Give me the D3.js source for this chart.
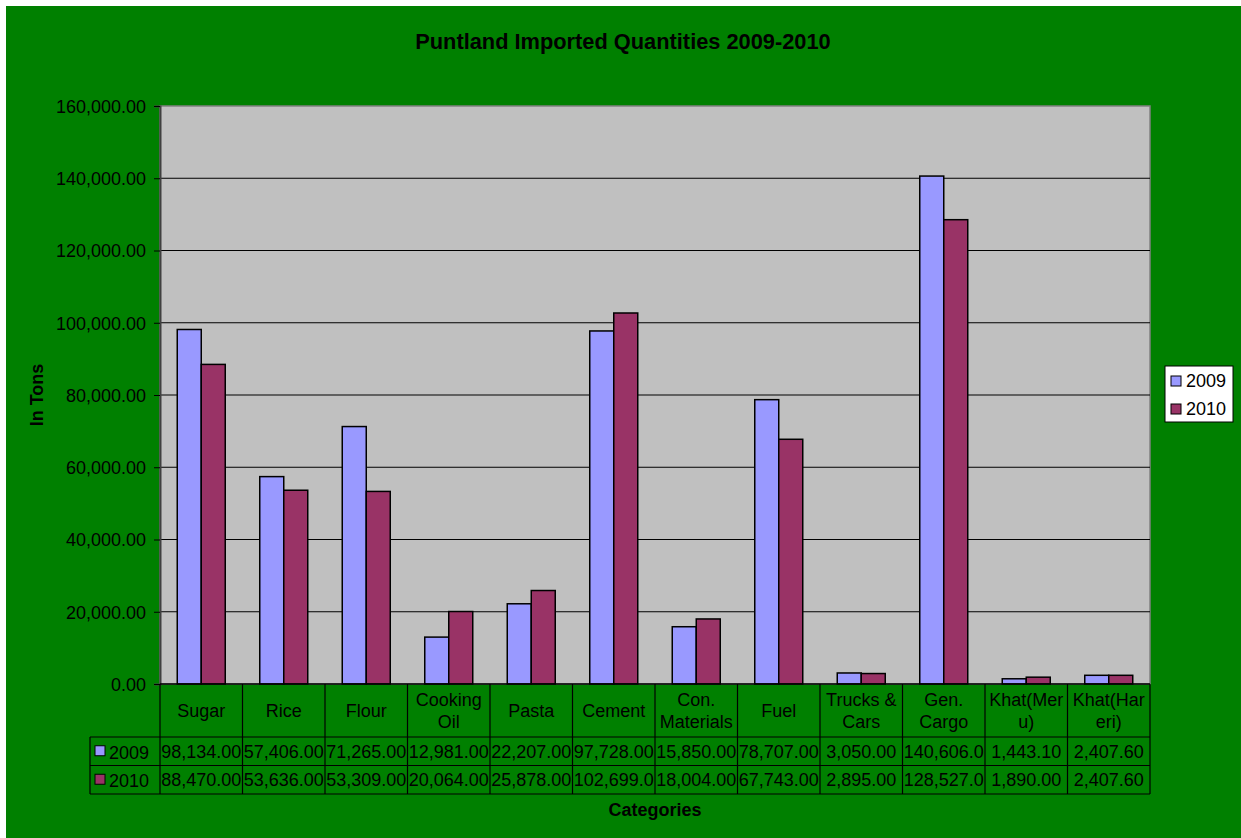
<!DOCTYPE html>
<html>
<head>
<meta charset="utf-8">
<script src="https://cdn.jsdelivr.net/npm/d3@7"></script>
<style>
  html, body { margin: 0; padding: 0; background: #ffffff; }
  svg { display: block; }
  text { font-family: Arial, "Liberation Sans", sans-serif; fill: #000; }
</style>
</head>
<body>
<script>
// Imported quantities (tons) by category
const categories = ["Sugar", "Rice", "Flour", "Cooking Oil", "Pasta", "Cement",
  "Con. Materials", "Fuel", "Trucks & Cars", "Gen. Cargo", "Khat(Meru)", "Khat(Hareri)"];
const years = ["2009", "2010"];
const values2009 = [98134, 57406, 71265, 12981, 22207, 97728, 15850, 78707, 3050, 140606, 1443.1, 2407.6];
const values2010 = [88470, 53636, 53309, 20064, 25878, 102699, 18004, 67743, 2895, 128527, 1890, 2407.6];
const yTicks = [0, 20000, 40000, 60000, 80000, 100000, 120000, 140000, 160000];

const seriesValues = [values2009, values2010];
const colors = ["#9999FF", "#993366"];

const W = 1241, H = 838;
const plot = { left: 160, top: 106, right: 1150, bottom: 684 };
const rowH = 28.5;
const headerBottom = 737;

const svg = d3.select("body").append("svg").attr("width", W).attr("height", H);

// Chart background
svg.append("rect").attr("x", 6).attr("y", 6).attr("width", W - 6).attr("height", H - 6)
  .attr("fill", "#008000");

// Title
svg.append("text").attr("x", 623).attr("y", 49).attr("text-anchor", "middle")
  .style("font-size", "21.8px").style("font-weight", "bold")
  .text("Puntland Imported Quantities 2009-2010");

const x = d3.scaleBand().domain(categories).range([plot.left, plot.right]);
const inner = d3.scaleBand().domain(years).range([0, 48]);
const groupPad = (x.bandwidth() - 48) / 2;
const y = d3.scaleLinear().domain([0, 160000]).range([plot.bottom, plot.top]);

// Plot area
svg.append("rect").attr("x", plot.left).attr("y", plot.top)
  .attr("width", plot.right - plot.left).attr("height", plot.bottom - plot.top)
  .attr("fill", "#C0C0C0").attr("stroke", "#808080").attr("stroke-width", 1.5);

// Gridlines
svg.append("g").selectAll("line").data(yTicks.filter(d => d > 0 && d < 160000)).join("line")
  .attr("x1", plot.left).attr("x2", plot.right)
  .attr("y1", d => y(d)).attr("y2", d => y(d))
  .attr("stroke", "#000").attr("stroke-width", 1);

// Y axis
const yAxis = d3.axisLeft(y).tickValues(yTicks).tickFormat(d3.format(",.2f"))
  .tickSize(6).tickPadding(8);
const gy = svg.append("g").attr("transform", `translate(${plot.left},0)`).call(yAxis);
gy.select(".domain").attr("stroke", "#404040").attr("stroke-width", 2);
gy.selectAll(".tick line").attr("stroke", "#000");
gy.selectAll(".tick text").style("font-size", "18px").style("font-family", "Arial, 'Liberation Sans', sans-serif")
  .attr("dy", "0.36em");

// Bars
years.forEach((yr, si) => {
  svg.append("g").selectAll("rect").data(seriesValues[si]).join("rect")
    .attr("x", (d, i) => x(categories[i]) + groupPad + inner(yr))
    .attr("y", d => y(d))
    .attr("width", inner.bandwidth())
    .attr("height", d => y(0) - y(d))
    .attr("fill", colors[si]).attr("stroke", "#000").attr("stroke-width", 1.5);
});

// X axis baseline
svg.append("line").attr("x1", plot.left).attr("x2", plot.right)
  .attr("y1", plot.bottom).attr("y2", plot.bottom).attr("stroke", "#000").attr("stroke-width", 1.5);

// Data table
const table = svg.append("g");
const lineStyle = s => s.attr("stroke", "#000").attr("stroke-width", 1.2);
const tableLeft = 90;
const tableBottom = headerBottom + 2 * rowH;

// horizontal rules
[headerBottom, headerBottom + rowH, tableBottom].forEach(yy => {
  table.append("line").attr("x1", tableLeft).attr("x2", plot.right).attr("y1", yy).attr("y2", yy).call(lineStyle);
});
// vertical rules
categories.forEach(c => {
  table.append("line").attr("x1", x(c)).attr("x2", x(c)).attr("y1", plot.bottom).attr("y2", tableBottom).call(lineStyle);
});
table.append("line").attr("x1", plot.right).attr("x2", plot.right).attr("y1", plot.bottom).attr("y2", tableBottom).call(lineStyle);
table.append("line").attr("x1", tableLeft).attr("x2", tableLeft).attr("y1", headerBottom).attr("y2", tableBottom).call(lineStyle);

// measuring helper
const meas = svg.append("text").style("font-size", "18px").attr("visibility", "hidden");
const widthOf = s => { meas.text(s); return meas.node().getComputedTextLength(); };
const maxW = x.bandwidth() - 2;

// wrap header labels to the cell width (breaking long words when needed)
function wrap(label) {
  const words = label.split(" ");
  const lines = [];
  let cur = "";
  words.forEach(w => {
    const trial = cur ? cur + " " + w : w;
    if (widthOf(trial) <= maxW) { cur = trial; return; }
    if (cur) { lines.push(cur); cur = ""; }
    if (widthOf(w) <= maxW) { cur = w; return; }
    let piece = "";
    for (const ch of w) {
      if (widthOf(piece + ch) > maxW) { lines.push(piece); piece = ch; }
      else piece += ch;
    }
    cur = piece;
  });
  if (cur) lines.push(cur);
  return lines;
}

categories.forEach(c => {
  const lines = wrap(c);
  const cx = x(c) + x.bandwidth() / 2;
  const cy = (plot.bottom + headerBottom) / 2;
  const lh = 22;
  lines.forEach((ln, k) => {
    table.append("text").attr("x", cx).attr("y", cy + (k - (lines.length - 1) / 2) * lh)
      .attr("dy", "0.35em").attr("text-anchor", "middle").style("font-size", "18px").text(ln);
  });
});

// value cells: clip text that does not fit in the cell
const fmt = d3.format(",.2f");
function fitText(s) {
  while (s.length > 1 && widthOf(s) > maxW) s = s.slice(0, -1);
  return s;
}
years.forEach((yr, si) => {
  const rowTop = headerBottom + si * rowH;
  const cy = rowTop + rowH / 2;
  // legend key + series name
  table.append("rect").attr("x", 95).attr("y", cy - 5.5).attr("width", 10).attr("height", 10)
    .attr("fill", colors[si]).attr("stroke", "#000").attr("stroke-width", 1);
  table.append("text").attr("x", 109).attr("y", cy + 1).attr("dy", "0.35em")
    .style("font-size", "18px").text(yr);
  seriesValues[si].forEach((v, i) => {
    table.append("text").attr("x", x(categories[i]) + x.bandwidth() / 2).attr("y", cy)
      .attr("dy", "0.35em").attr("text-anchor", "middle").style("font-size", "18px")
      .text(fitText(fmt(v)));
  });
});
meas.remove();

// Axis titles
svg.append("text").attr("x", 655).attr("y", 816).attr("text-anchor", "middle")
  .style("font-size", "18px").style("font-weight", "bold").text("Categories");
svg.append("text").attr("transform", "translate(43,395) rotate(-90)").attr("text-anchor", "middle")
  .style("font-size", "18px").style("font-weight", "bold").text("In Tons");

// Legend
const lg = svg.append("g");
lg.append("rect").attr("x", 1165).attr("y", 366).attr("width", 68).attr("height", 56)
  .attr("fill", "#fff").attr("stroke", "#000").attr("stroke-width", 1);
years.forEach((yr, si) => {
  const cy = 381 + si * 28;
  lg.append("rect").attr("x", 1171).attr("y", cy - 5).attr("width", 10).attr("height", 10)
    .attr("fill", colors[si]).attr("stroke", "#000").attr("stroke-width", 1);
  lg.append("text").attr("x", 1186).attr("y", cy).attr("dy", "0.35em")
    .style("font-size", "18px").text(yr);
});
</script>
</body>
</html>
